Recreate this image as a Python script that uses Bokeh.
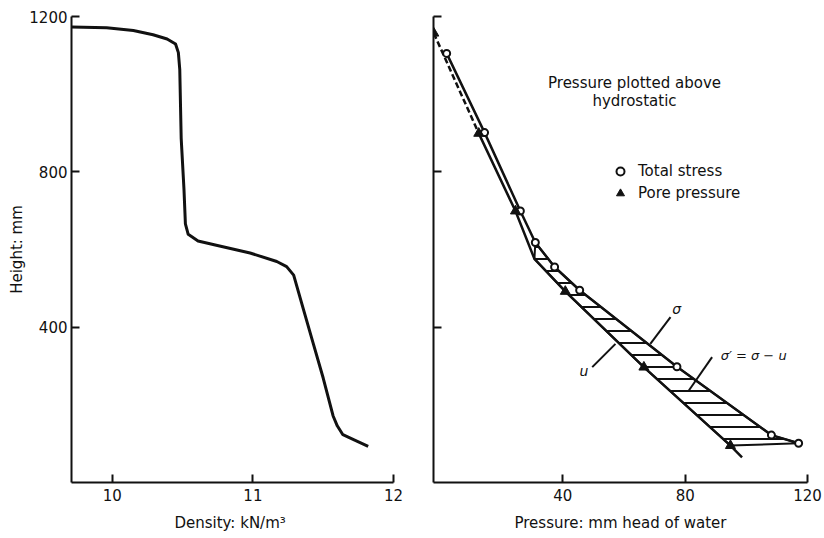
from bokeh.plotting import figure
from bokeh.layouts import row
from bokeh.models import Range1d, FixedTicker, Label, Legend, LegendItem
from bokeh.embed import file_html
from bokeh.resources import INLINE

FONT = "DejaVu Sans"
INK = "#111111"

# ---- left panel: density profile ----
density_kNm3 = [9.71, 9.96, 10.15, 10.29, 10.39, 10.45, 10.47, 10.48, 10.49, 10.51, 10.52,
                10.54, 10.61, 10.74, 10.98, 11.17, 11.24, 11.29, 11.36, 11.43, 11.50,
                11.57, 11.60, 11.64, 11.72, 11.82]
height_mm = [1173, 1171, 1164, 1153, 1142, 1129, 1107, 1063, 887, 754, 666,
             639, 622, 611, 591, 569, 556, 534, 445, 357, 269,
             172, 146, 123, 110, 93]
density_ticks = [10, 11, 12]
height_ticks = [400, 800, 1200]

# ---- right panel: pressures above hydrostatic ----
total_stress_x = [2.0, 14.4, 26.1, 31.0, 37.3, 45.5, 77.3, 108.2, 117.1]
total_stress_h = [1105, 901, 699, 618, 555, 495, 298, 122, 101]
pore_pressure_x = [-2.2, 12.5, 24.5, 40.8, 66.5, 94.8]
pore_pressure_h = [1157, 899, 699, 492, 297, 95]
# pore-pressure line as drawn (with its bend and tail)
pore_line_x = [12.5, 24.5, 30.7, 40.8, 66.5, 94.8, 98.6]
pore_line_h = [899, 699, 576, 492, 297, 95, 65]
pressure_ticks = [40, 80, 120]


def style_axes(p):
    for ax in p.axis:
        ax.axis_line_width = 2
        ax.axis_line_color = INK
        ax.major_tick_line_width = 2
        ax.major_tick_line_color = INK
        ax.major_tick_in = 8
        ax.major_tick_out = 0
        ax.minor_tick_line_color = None
        ax.major_label_text_font = FONT
        ax.major_label_text_font_size = "15px"
        ax.major_label_text_color = INK
        ax.axis_label_text_font = FONT
        ax.axis_label_text_font_size = "15px"
        ax.axis_label_text_font_style = "normal"
        ax.axis_label_text_color = INK
    p.grid.visible = False
    p.outline_line_color = None
    p.background_fill_color = "white"
    p.border_fill_color = "white"


# left figure
p1 = figure(frame_width=322, frame_height=466, output_backend="svg", toolbar_location=None,
            x_range=Range1d(9.71, 12.0), y_range=Range1d(0, 1200),
            min_border_left=71, min_border_right=10, min_border_top=16, min_border_bottom=54)
p1.line(density_kNm3, height_mm, line_width=3, line_color=INK, line_join="round")
style_axes(p1)
p1.xaxis.ticker = FixedTicker(ticks=density_ticks)
p1.yaxis.ticker = FixedTicker(ticks=height_ticks)
p1.xaxis.axis_label = "Density:  kN/m³"
p1.yaxis.axis_label = "Height: mm"
p1.yaxis.major_label_standoff = 4
p1.yaxis.axis_label_standoff = 0
p1.xaxis.major_label_standoff = 6
p1.xaxis.axis_label_standoff = 10

# right figure
p2 = figure(frame_width=374, frame_height=466, output_backend="svg", toolbar_location=None,
            x_range=Range1d(-2.3, 120), y_range=Range1d(0, 1200),
            min_border_left=30, min_border_right=17, min_border_top=16, min_border_bottom=54)
style_axes(p2)
p2.xaxis.ticker = FixedTicker(ticks=pressure_ticks)
p2.yaxis.ticker = FixedTicker(ticks=height_ticks)
p2.yaxis.major_label_overrides = {t: "" for t in height_ticks}
p2.xaxis.axis_label = "Pressure: mm head of water"
p2.xaxis.major_label_standoff = 6
p2.xaxis.axis_label_standoff = 10

# hatched effective-stress band between the two lines
band_x = pore_line_x[2:6] + total_stress_x[3:][::-1]
band_h = pore_line_h[2:6] + total_stress_h[3:][::-1]
p2.patch(band_x, band_h, fill_color=None, line_color=INK, line_width=2,
         hatch_pattern="horizontal_line", hatch_scale=12, hatch_weight=2, hatch_color=INK)

p2.line(total_stress_x, total_stress_h, line_width=2.5, line_color=INK, line_join="round")
p2.line(pore_line_x, pore_line_h, line_width=2.5, line_color=INK, line_join="round")
p2.line(pore_pressure_x[:2], pore_pressure_h[:2], line_width=2.5, line_color=INK,
        line_dash="6 3")

r_sig = p2.scatter(total_stress_x, total_stress_h, marker="circle", size=7,
                   fill_color="white", line_color=INK, line_width=2)
r_u = p2.scatter(pore_pressure_x, pore_pressure_h, marker="triangle", size=10,
                 fill_color=INK, line_color=INK)

legend = Legend(items=[LegendItem(label="Total stress", renderers=[r_sig]),
                       LegendItem(label="Pore pressure", renderers=[r_u])],
                location=(177, 278), border_line_color=None, background_fill_alpha=0,
                padding=0, margin=0, spacing=0, glyph_width=20, glyph_height=22,
                label_height=22, label_standoff=8, label_text_font=FONT,
                label_text_font_size="15px", label_text_color=INK)
p2.add_layout(legend)

for txt, yy in [("Pressure plotted above", 400), ("hydrostatic", 382)]:
    p2.add_layout(Label(x=201, y=yy, x_units="screen", y_units="screen", text=txt,
                        text_align="center", text_baseline="middle", text_font=FONT,
                        text_font_size="15px", text_color=INK))

# leader lines for annotations
p2.line([75.2, 68.6], [426, 357], line_width=2, line_color=INK)
p2.line([49.6, 57.2], [297, 357], line_width=2, line_color=INK)
p2.line([88.8, 81.2], [323, 237], line_width=2, line_color=INK)

for txt, xx, yy, al, fs in [("σ", 77.2, 447, "center", "14px"), ("u", 46.9, 288, "center", "14px"),
                            ("σ′ = σ − u", 91.6, 327, "left", "13px")]:
    p2.add_layout(Label(x=xx, y=yy, text=txt, text_align=al, text_baseline="middle",
                        text_font=FONT, text_font_size=fs, text_font_style="italic",
                        text_color=INK))

layout = row(p1, p2)
open("out.html", "w").write(file_html(layout, INLINE))
